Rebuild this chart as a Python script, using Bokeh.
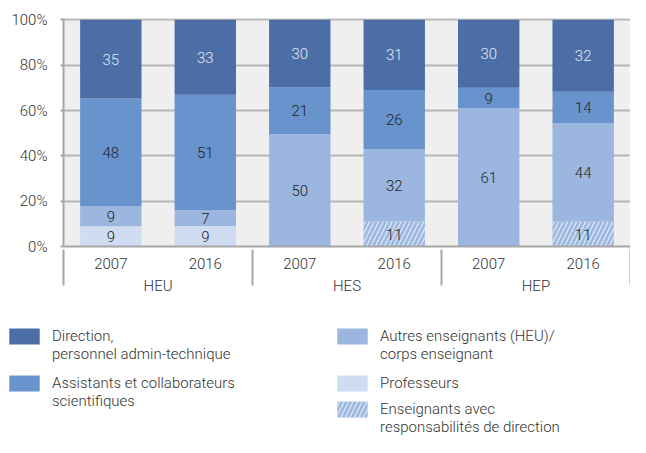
from bokeh.plotting import figure
from bokeh.layouts import column
from bokeh.models import (ColumnDataSource, FactorRange, Range1d, FixedTicker,
                          PrintfTickFormatter, Legend, LegendItem)
from bokeh.core.properties import value
from bokeh.embed import file_html
from bokeh.resources import INLINE

# ---- data ----
groups = ["HEU", "HES", "HEP"]
years = ["2007", "2016"]
professeurs = [9, 9, 0, 0, 0, 0]
ens_direction = [0, 0, 0, 11, 0, 11]
autres = [9, 7, 50, 32, 61, 44]
assistants = [48, 51, 21, 26, 9, 14]
direction = [35, 33, 30, 31, 30, 32]

series = [professeurs, ens_direction, autres, assistants, direction]
# a blank first line keeps each swatch level with the first line of its label
series_labels = [
    "Professeurs",
    "\u00a0\nEnseignants avec\nresponsabilités de direction",
    "\u00a0\nAutres enseignants (HEU)/\ncorps enseignant",
    "\u00a0\nAssistants et collaborateurs\nscientifiques",
    "\u00a0\nDirection,\npersonnel admin-technique",
]
colors = ["#cfdcf2", "#9bb7e0", "#9bb7e0", "#6893cc", "#4a6ea5"]
hatches = [" ", "/", " ", " ", " "]
label_colors = ["#222222", "#222222", "#222222", "#222222", "#e2e9f5"]
y_ticks = [0, 20, 40, 60, 80, 100]

FONT = "Roboto Light"

factors = [(g, y) for g in groups for y in years]
n = len(factors)
totals = [sum(s[i] for s in series) for i in range(n)]

data = {"x": factors}
lab = {"x": [], "y": [], "text": [], "color": []}
bottoms = [0.0] * n
for k, s in enumerate(series):
    norm = [s[i] * 100.0 / totals[i] for i in range(n)]
    tops = [bottoms[i] + norm[i] for i in range(n)]
    data[f"b{k}"] = list(bottoms)
    data[f"t{k}"] = tops
    for i in range(n):
        if s[i] > 0:
            lab["x"].append(factors[i])
            lab["y"].append((bottoms[i] + tops[i]) / 2)
            lab["text"].append(str(s[i]))
            lab["color"].append(label_colors[k])
    bottoms = tops

src = ColumnDataSource(data)
lab_src = ColumnDataSource(lab)

# blank edge groups so that a group separator also appears at the left edge
range_factors = [(" ", " ")] + factors + [("  ", "  ")]
x_range = FactorRange(*range_factors, group_padding=0, factor_padding=0,
                      range_padding=-0.999, range_padding_units="absolute")

p = figure(width=630, height=306, output_backend="svg", toolbar_location=None,
           x_range=x_range, y_range=Range1d(0, 100.6),
           min_border_left=63, min_border_right=0, min_border_top=18, min_border_bottom=60)
p.frame_align = False
p.background_fill_color = "#efefef"
p.border_fill_color = "white"
p.outline_line_color = None

def bars(fig):
    rs = []
    for k in range(len(series)):
        r = fig.vbar(x="x", bottom=f"b{k}", top=f"t{k}", width=0.65, source=src,
                     fill_color=colors[k], line_color=None,
                     hatch_pattern=hatches[k], hatch_color="white", hatch_alpha=0.6,
                     hatch_scale=9, hatch_weight=1.5)
        rs.append(r)
    return rs

bars(p)
p.text(x="x", y="y", text="text", text_color="color", source=lab_src,
       text_align="center", text_baseline="middle",
       text_font=value(FONT), text_font_size="15px")

# grid / axes
p.xgrid.grid_line_color = None
p.ygrid.grid_line_color = "#b5b5b5"
p.ygrid.grid_line_width = 2
p.yaxis.ticker = FixedTicker(ticks=y_ticks)
p.yaxis.formatter = PrintfTickFormatter(format="%d%%")
p.yaxis.minor_tick_line_color = None
p.yaxis.major_tick_in = 0
p.yaxis.major_tick_out = 3
p.yaxis.major_tick_line_color = "#a6a6a6"
p.yaxis.major_tick_line_width = 2
p.yaxis.axis_line_color = "#a6a6a6"
p.yaxis.axis_line_width = 2
p.yaxis.major_label_standoff = 13
p.yaxis.major_label_text_font = FONT
p.yaxis.major_label_text_font_size = "15px"
p.yaxis.major_label_text_color = "#333333"

p.xaxis.major_tick_line_color = None
p.xaxis.axis_line_color = "#a6a6a6"
p.xaxis.axis_line_width = 2
p.xaxis.major_label_standoff = 5
p.xaxis.major_label_text_font = FONT
p.xaxis.major_label_text_font_size = "15px"
p.xaxis.major_label_text_color = "#333333"
p.xaxis.group_text_font = FONT
p.xaxis.group_text_font_size = "15px"
p.xaxis.group_text_color = "#333333"
p.xaxis.group_text_font_style = "normal"
p.xaxis.separator_line_color = "#a6a6a6"
p.xaxis.separator_line_width = 2

# ---- legend panel (same bar glyphs, kept out of view) ----
lf = figure(width=630, height=131, output_backend="svg", toolbar_location=None,
            x_range=FactorRange(*factors), y_range=Range1d(1000, 1001),
            x_axis_type=None, y_axis_type=None,
            min_border_left=0, min_border_right=0, min_border_top=0, min_border_bottom=0)
lf.frame_align = False
lf.outline_line_color = None
lf.background_fill_color = "white"
lf.xgrid.visible = False
lf.ygrid.visible = False
leg_renderers = bars(lf)

def make_legend(k, loc, lh):
    items = [LegendItem(label=value(series_labels[k]), renderers=[leg_renderers[k]])]
    lg = Legend(items=items, location=loc, orientation="vertical",
                background_fill_alpha=0, border_line_color=None,
                padding=0, margin=0, spacing=0,
                glyph_width=38, glyph_height=20, label_standoff=9,
                label_text_font=FONT, label_text_font_size="15px",
                label_text_color="#333333", label_height=lh)
    lf.add_layout(lg, "center")

make_legend(4, (5, 71), 60)     # Direction
make_legend(3, (5, 24), 60)     # Assistants
make_legend(2, (333, 71), 60)   # Autres enseignants
make_legend(0, (333, 44), 20)   # Professeurs
make_legend(1, (333, -2), 60)   # Enseignants avec responsabilités

open("out.html", "w").write(file_html(column(p, lf, spacing=0), INLINE))
